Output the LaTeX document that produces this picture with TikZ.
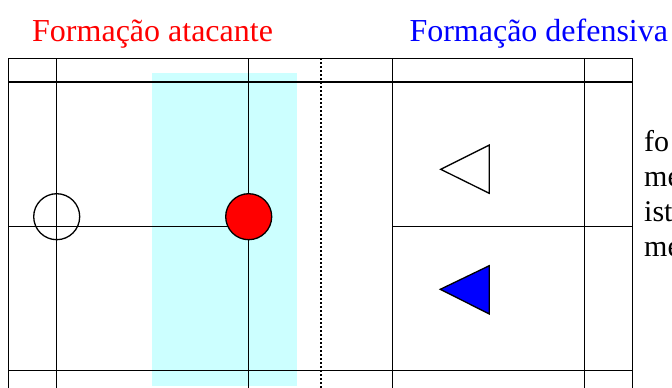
\documentclass[tikz,border=0pt]{standalone}
\usepackage{fontspec}
\setmainfont{Liberation Serif}
\usetikzlibrary{positioning}
\definecolor{zonecyan}{RGB}{204,255,255}

\begin{document}
\begin{tikzpicture}[x=1pt, y=-1pt,
    court/.style={line width=1.3pt},
    player/.style={circle, draw, line width=1.3pt, minimum size=46pt, inner sep=0pt},
    title/.style={anchor=base west, inner sep=0pt, font=\fontsize{32}{38}\selectfont},
    note/.style={anchor=base west, inner sep=0pt, font=\fontsize{30}{35}\selectfont}]
    \useasboundingbox (0,0) rectangle (672,388);
    \clip (0,0) rectangle (672,388);
    % Titles
    \node[title, text=red] (atktitle) at (32,41.7) {Formação atacante};
    \node[title, text=blue] (deftitle) at (409.3,41.7) {Formação defensiva};
    % Shaded zone
    \fill[zonecyan] (152,73) rectangle (297,386);
    % Court lines
    \draw[court] (8.3,400) -- (8.3,58.3) -- (632.7,58.3) -- (632.7,400);
    \draw[court] (8.3,82) -- (632.7,82);
    \draw[court] (8.3,370.7) -- (632.7,370.7);
    \foreach \x in {56.7, 248.7, 392.7, 584.7}
        \draw[court] (\x,58.3) -- (\x,400);
    \draw[line width=1.3pt, dash pattern=on 1.5pt off 2.5pt] (321,58.3) -- (321,400);
    \coordinate (midleft) at (8.3,226.7);
    \coordinate (frontspot) at (248.7,226.7);
    \draw[court] (midleft) -- (frontspot);
    \draw[court] (392.7,226.7) -- (632.7,226.7);
    % Players
    \node[player] (atkback) at (56.7,216.7) {};
    \node[player, fill=red] (atkfront) at (248.7,216.7) {};
    \draw[court, fill=white] (489.3,145) -- (440.7,169.3) -- (489.3,193.3) -- cycle;
    \draw[court, fill=blue] (489.3,265.7) -- (440.3,289.3) -- (489.3,314) -- cycle;
    % Cut-off side text
    \node[note] (noteA) at (644,151) {fo};
    \node[note] (noteB) at (644,186) {me};
    \node[note] (noteC) at (644,221) {ist};
    \node[note] (noteD) at (644,256) {me};
\end{tikzpicture}
\end{document}
